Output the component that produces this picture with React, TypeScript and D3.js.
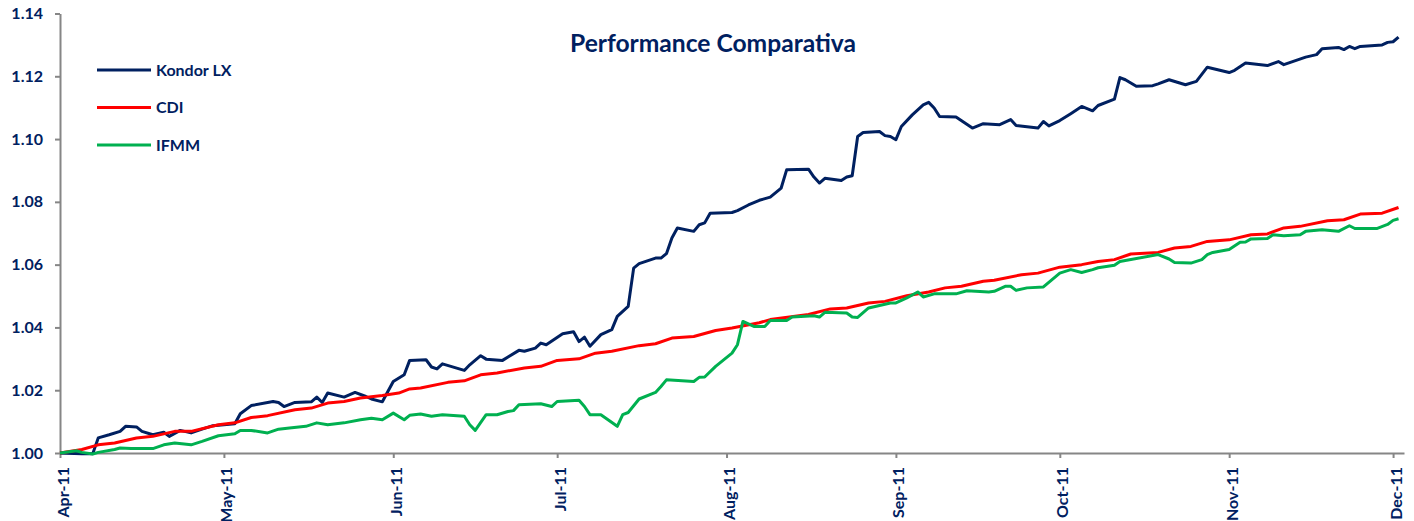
import React, { useEffect, useRef } from 'react';
import * as d3 from 'd3';

// month ticks on the x axis
const monthTicks = [
  '2011-04-01', '2011-05-01', '2011-06-01', '2011-07-01', '2011-08-01',
  '2011-09-01', '2011-10-01', '2011-11-01', '2011-12-01',
];
const xDomain = ['2011-04-01', '2011-12-03'];
const yTicks = [1.0, 1.02, 1.04, 1.06, 1.08, 1.1, 1.12, 1.14];
const seriesNames = ['Kondor LX', 'CDI', 'IFMM'];
const seriesColors = ['#002060', '#ff0000', '#00b050'];

const kondorLX: [string, number][] = [
  ['2011-04-01', 1.0000], ['2011-04-05', 0.9998], ['2011-04-07', 0.9998], ['2011-04-08', 1.0048],
  ['2011-04-10', 1.0058], ['2011-04-12', 1.0069], ['2011-04-13', 1.0085], ['2011-04-15', 1.0083],
  ['2011-04-16', 1.0069], ['2011-04-18', 1.0058], ['2011-04-20', 1.0066], ['2011-04-21', 1.0053],
  ['2011-04-23', 1.0072], ['2011-04-25', 1.0064], ['2011-04-27', 1.0076], ['2011-04-29', 1.0087],
  ['2011-05-03', 1.0093], ['2011-05-04', 1.0125], ['2011-05-06', 1.0151], ['2011-05-10', 1.0164],
  ['2011-05-11', 1.0161], ['2011-05-12', 1.0148], ['2011-05-14', 1.0161], ['2011-05-17', 1.0163],
  ['2011-05-18', 1.0178], ['2011-05-19', 1.0161], ['2011-05-20', 1.0191], ['2011-05-23', 1.0178],
  ['2011-05-25', 1.0193], ['2011-05-27', 1.0180], ['2011-05-28', 1.0172], ['2011-05-30', 1.0163],
  ['2011-06-01', 1.0228], ['2011-06-03', 1.0249], ['2011-06-04', 1.0295], ['2011-06-07', 1.0297],
  ['2011-06-08', 1.0274], ['2011-06-09', 1.0268], ['2011-06-10', 1.0284], ['2011-06-14', 1.0263],
  ['2011-06-15', 1.0281], ['2011-06-17', 1.0310], ['2011-06-18', 1.0299], ['2011-06-21', 1.0295],
  ['2011-06-22', 1.0306], ['2011-06-24', 1.0327], ['2011-06-25', 1.0324], ['2011-06-27', 1.0334],
  ['2011-06-28', 1.0350], ['2011-06-29', 1.0345], ['2011-07-02', 1.0380], ['2011-07-04', 1.0386],
  ['2011-07-05', 1.0355], ['2011-07-06', 1.0369], ['2011-07-07', 1.0340], ['2011-07-09', 1.0377],
  ['2011-07-11', 1.0393], ['2011-07-12', 1.0435], ['2011-07-14', 1.0467], ['2011-07-15', 1.0589],
  ['2011-07-16', 1.0603], ['2011-07-19', 1.0621], ['2011-07-20', 1.0621], ['2011-07-21', 1.0635],
  ['2011-07-22', 1.0685], ['2011-07-23', 1.0717], ['2011-07-26', 1.0706], ['2011-07-27', 1.0727],
  ['2011-07-28', 1.0733], ['2011-07-29', 1.0764], ['2011-08-02', 1.0766], ['2011-08-03', 1.0772],
  ['2011-08-05', 1.0790], ['2011-08-07', 1.0805], ['2011-08-09', 1.0815], ['2011-08-11', 1.0844],
  ['2011-08-12', 1.0902], ['2011-08-16', 1.0904], ['2011-08-17', 1.0879], ['2011-08-18', 1.0860],
  ['2011-08-19', 1.0875], ['2011-08-22', 1.0868], ['2011-08-23', 1.0879], ['2011-08-24', 1.0883],
  ['2011-08-25', 1.1008], ['2011-08-26', 1.1021], ['2011-08-29', 1.1024], ['2011-08-30', 1.1011],
  ['2011-08-31', 1.1008], ['2011-09-01', 1.0998], ['2011-09-02', 1.1040], ['2011-09-04', 1.1077],
  ['2011-09-06', 1.1109], ['2011-09-07', 1.1117], ['2011-09-08', 1.1099], ['2011-09-09', 1.1072],
  ['2011-09-12', 1.1070], ['2011-09-15', 1.1035], ['2011-09-17', 1.1049], ['2011-09-20', 1.1046],
  ['2011-09-22', 1.1062], ['2011-09-23', 1.1043], ['2011-09-27', 1.1035], ['2011-09-28', 1.1056],
  ['2011-09-29', 1.1042], ['2011-10-01', 1.1059], ['2011-10-03', 1.1081], ['2011-10-05', 1.1104],
  ['2011-10-07', 1.1090], ['2011-10-08', 1.1107], ['2011-10-11', 1.1127], ['2011-10-12', 1.1196],
  ['2011-10-13', 1.1189], ['2011-10-15', 1.1168], ['2011-10-18', 1.1170], ['2011-10-19', 1.1176],
  ['2011-10-21', 1.1189], ['2011-10-24', 1.1173], ['2011-10-26', 1.1184], ['2011-10-28', 1.1229],
  ['2011-11-01', 1.1212], ['2011-11-02', 1.1219], ['2011-11-04', 1.1242], ['2011-11-08', 1.1234],
  ['2011-11-10', 1.1247], ['2011-11-11', 1.1237], ['2011-11-15', 1.1261], ['2011-11-17', 1.1269],
  ['2011-11-18', 1.1288], ['2011-11-21', 1.1292], ['2011-11-22', 1.1285], ['2011-11-23', 1.1295],
  ['2011-11-24', 1.1288], ['2011-11-25', 1.1295], ['2011-11-29', 1.1300], ['2011-11-30', 1.1308],
  ['2011-12-01', 1.1310], ['2011-12-02', 1.1325],
];

const cdi: [string, number][] = [
  ['2011-04-01', 1.0000], ['2011-04-05', 1.0011], ['2011-04-08', 1.0026], ['2011-04-11', 1.0032],
  ['2011-04-15', 1.0048], ['2011-04-18', 1.0053], ['2011-04-22', 1.0069], ['2011-04-25', 1.0069],
  ['2011-04-30', 1.0090], ['2011-05-03', 1.0096], ['2011-05-06', 1.0113], ['2011-05-09', 1.0119],
  ['2011-05-14', 1.0138], ['2011-05-17', 1.0143], ['2011-05-20', 1.0159], ['2011-05-23', 1.0164],
  ['2011-05-26', 1.0175], ['2011-05-30', 1.0183], ['2011-06-02', 1.0191], ['2011-06-04', 1.0204],
  ['2011-06-06', 1.0207], ['2011-06-11', 1.0225], ['2011-06-14', 1.0230], ['2011-06-17', 1.0249],
  ['2011-06-20', 1.0255], ['2011-06-25', 1.0271], ['2011-06-28', 1.0276], ['2011-07-01', 1.0295],
  ['2011-07-05', 1.0300], ['2011-07-08', 1.0318], ['2011-07-11', 1.0324], ['2011-07-16', 1.0342],
  ['2011-07-19', 1.0348], ['2011-07-22', 1.0366], ['2011-07-26', 1.0371], ['2011-07-30', 1.0390],
  ['2011-08-02', 1.0398], ['2011-08-07', 1.0415], ['2011-08-09', 1.0425], ['2011-08-16', 1.0441],
  ['2011-08-20', 1.0459], ['2011-08-23', 1.0462], ['2011-08-27', 1.0478], ['2011-08-30', 1.0483],
  ['2011-09-03', 1.0501], ['2011-09-07', 1.0513], ['2011-09-10', 1.0526], ['2011-09-13', 1.0531],
  ['2011-09-17', 1.0547], ['2011-09-19', 1.0550], ['2011-09-24', 1.0568], ['2011-09-27', 1.0573],
  ['2011-10-01', 1.0592], ['2011-10-05', 1.0600], ['2011-10-08', 1.0610], ['2011-10-11', 1.0616],
  ['2011-10-14', 1.0634], ['2011-10-19', 1.0639], ['2011-10-22', 1.0653], ['2011-10-25', 1.0658],
  ['2011-10-28', 1.0674], ['2011-11-01', 1.0679], ['2011-11-05', 1.0695], ['2011-11-08', 1.0698],
  ['2011-11-11', 1.0717], ['2011-11-14', 1.0722], ['2011-11-19', 1.0740], ['2011-11-22', 1.0743],
  ['2011-11-25', 1.0761], ['2011-11-29', 1.0764], ['2011-12-02', 1.0782],
];

const ifmm: [string, number][] = [
  ['2011-04-01', 1.0000], ['2011-04-04', 1.0007], ['2011-04-05', 1.0002], ['2011-04-07', 0.9997],
  ['2011-04-08', 1.0002], ['2011-04-11', 1.0011], ['2011-04-12', 1.0016], ['2011-04-14', 1.0014],
  ['2011-04-18', 1.0014], ['2011-04-20', 1.0026], ['2011-04-22', 1.0032], ['2011-04-25', 1.0026],
  ['2011-04-27', 1.0037], ['2011-04-30', 1.0055], ['2011-05-03', 1.0061], ['2011-05-04', 1.0072],
  ['2011-05-06', 1.0072], ['2011-05-09', 1.0064], ['2011-05-11', 1.0076], ['2011-05-13', 1.0080],
  ['2011-05-16', 1.0085], ['2011-05-18', 1.0096], ['2011-05-20', 1.0090], ['2011-05-23', 1.0096],
  ['2011-05-26', 1.0106], ['2011-05-28', 1.0111], ['2011-05-30', 1.0106], ['2011-06-01', 1.0127],
  ['2011-06-03', 1.0106], ['2011-06-04', 1.0120], ['2011-06-06', 1.0124], ['2011-06-08', 1.0117],
  ['2011-06-10', 1.0122], ['2011-06-14', 1.0117], ['2011-06-15', 1.0090], ['2011-06-16', 1.0072],
  ['2011-06-18', 1.0122], ['2011-06-20', 1.0122], ['2011-06-22', 1.0132], ['2011-06-23', 1.0135],
  ['2011-06-24', 1.0154], ['2011-06-28', 1.0157], ['2011-06-30', 1.0148], ['2011-07-01', 1.0164],
  ['2011-07-05', 1.0168], ['2011-07-06', 1.0148], ['2011-07-07', 1.0122], ['2011-07-09', 1.0122],
  ['2011-07-12', 1.0085], ['2011-07-13', 1.0122], ['2011-07-14', 1.0129], ['2011-07-16', 1.0172],
  ['2011-07-19', 1.0193], ['2011-07-20', 1.0212], ['2011-07-21', 1.0233], ['2011-07-26', 1.0228],
  ['2011-07-27', 1.0241], ['2011-07-28', 1.0242], ['2011-07-30', 1.0276], ['2011-08-02', 1.0318],
  ['2011-08-03', 1.0345], ['2011-08-04', 1.0419], ['2011-08-06', 1.0403], ['2011-08-08', 1.0403],
  ['2011-08-09', 1.0422], ['2011-08-12', 1.0422], ['2011-08-13', 1.0433], ['2011-08-17', 1.0437],
  ['2011-08-18', 1.0433], ['2011-08-19', 1.0448], ['2011-08-23', 1.0446], ['2011-08-24', 1.0433],
  ['2011-08-25', 1.0432], ['2011-08-27', 1.0462], ['2011-08-31', 1.0478], ['2011-09-01', 1.0478],
  ['2011-09-03', 1.0494], ['2011-09-05', 1.0513], ['2011-09-06', 1.0497], ['2011-09-08', 1.0507],
  ['2011-09-12', 1.0507], ['2011-09-14', 1.0517], ['2011-09-18', 1.0513], ['2011-09-19', 1.0515],
  ['2011-09-21', 1.0531], ['2011-09-22', 1.0531], ['2011-09-23', 1.0518], ['2011-09-25', 1.0526],
  ['2011-09-28', 1.0529], ['2011-10-01', 1.0573], ['2011-10-03', 1.0584], ['2011-10-05', 1.0575],
  ['2011-10-07', 1.0584], ['2011-10-08', 1.0590], ['2011-10-11', 1.0598], ['2011-10-12', 1.0610],
  ['2011-10-19', 1.0632], ['2011-10-21', 1.0618], ['2011-10-22', 1.0607], ['2011-10-25', 1.0605],
  ['2011-10-27', 1.0616], ['2011-10-28', 1.0632], ['2011-10-29', 1.0639], ['2011-11-01', 1.0648],
  ['2011-11-03', 1.0671], ['2011-11-04', 1.0672], ['2011-11-05', 1.0682], ['2011-11-08', 1.0683],
  ['2011-11-09', 1.0695], ['2011-11-11', 1.0692], ['2011-11-14', 1.0695], ['2011-11-15', 1.0706],
  ['2011-11-18', 1.0711], ['2011-11-21', 1.0706], ['2011-11-23', 1.0724], ['2011-11-24', 1.0715],
  ['2011-11-28', 1.0715], ['2011-11-30', 1.0728], ['2011-12-01', 1.0741], ['2011-12-02', 1.0746],
];

const WIDTH = 1414;
const HEIGHT = 521;
const TEXT = '#002060';
const AXIS = '#868686';
const FONT = 'Lato, "Open Sans", sans-serif';

export default function App() {
  const ref = useRef<SVGSVGElement>(null);

  useEffect(() => {
    const svg = d3.select(ref.current);
    svg.selectAll('*').remove();
    const parse = d3.utcParse('%Y-%m-%d');

    const x = d3.scaleUtc()
      .domain(xDomain.map((d) => parse(d) as Date))
      .range([60, 1404]);
    const y = d3.scaleLinear().domain([1, 1.14]).range([453, 13.5]);

    // y axis
    const gy = svg.append('g')
      .attr('transform', 'translate(60,0)')
      .call(d3.axisLeft(y).tickValues(yTicks).tickSize(5).tickSizeOuter(0)
        .tickPadding(12).tickFormat(d3.format('.2f')));
    gy.select('.domain').attr('stroke', AXIS).attr('stroke-width', 2);
    gy.selectAll('.tick line').attr('stroke', AXIS).attr('stroke-width', 2);
    gy.selectAll('.tick text')
      .attr('fill', TEXT)
      .style('font-family', FONT)
      .style('font-weight', 'bold')
      .style('font-size', '16px');

    // x axis, labels turned up
    const gx = svg.append('g')
      .attr('transform', 'translate(0,453)')
      .call(d3.axisBottom(x).tickValues(monthTicks.map((d) => parse(d) as Date))
        .tickSize(5).tickSizeOuter(0).tickFormat((d) => d3.utcFormat('%b-%y')(d as Date)));
    gx.select('.domain').attr('stroke', AXIS).attr('stroke-width', 2);
    gx.selectAll('.tick line').attr('stroke', AXIS).attr('stroke-width', 2);
    gx.selectAll('.tick text')
      .attr('transform', 'rotate(-90)')
      .attr('text-anchor', 'end')
      .attr('x', -14)
      .attr('y', 8)
      .attr('dy', 0)
      .attr('fill', TEXT)
      .style('font-family', FONT)
      .style('font-weight', 'bold')
      .style('font-size', '16px');

    // series lines
    const line = d3.line<[string, number]>()
      .x((d) => x(parse(d[0]) as Date))
      .y((d) => y(d[1]));
    [kondorLX, cdi, ifmm].forEach((s, i) => {
      svg.append('path')
        .datum(s)
        .attr('d', line)
        .attr('fill', 'none')
        .attr('stroke', seriesColors[i])
        .attr('stroke-width', 3)
        .attr('stroke-linejoin', 'round');
    });

    // title
    svg.append('text')
      .attr('x', 713)
      .attr('y', 52)
      .attr('text-anchor', 'middle')
      .attr('fill', TEXT)
      .style('font-family', FONT)
      .style('font-weight', 'bold')
      .style('font-size', '24.6px')
      .text('Performance Comparativa');

    // legend
    const legend = svg.append('g').attr('transform', 'translate(97,70)');
    seriesNames.forEach((name, i) => {
      const row = legend.append('g').attr('transform', `translate(0,${i * 37.5})`);
      row.append('line')
        .attr('x1', 0).attr('x2', 54)
        .attr('stroke', seriesColors[i])
        .attr('stroke-width', 3);
      row.append('text')
        .attr('x', 59)
        .attr('dy', '0.35em')
        .attr('fill', TEXT)
        .style('font-family', FONT)
        .style('font-weight', 'bold')
        .style('font-size', '16px')
        .text(name);
    });
  }, []);

  return (
    <svg
      ref={ref}
      width={WIDTH}
      height={HEIGHT}
      style={{ position: 'absolute', left: 0, top: 0, background: '#fff' }}
    />
  );
}
